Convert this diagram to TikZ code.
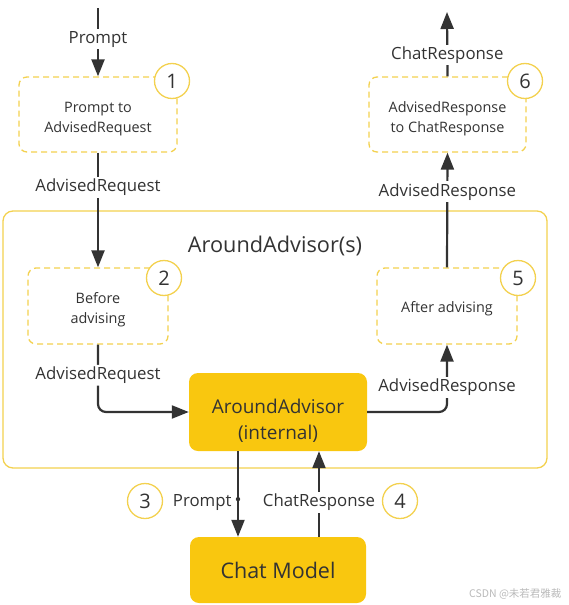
\documentclass[tikz,border=0pt]{standalone}
\usepackage{fontspec}
\setmainfont{Open Sans}
\newfontfamily\cjk{Noto Sans CJK SC}
\usetikzlibrary{arrows.meta, positioning, calc}
\definecolor{advyellow}{HTML}{F9C70F}
\definecolor{advline}{HTML}{F3D14F}
\definecolor{advtext}{HTML}{333333}

\begin{document}
\begin{tikzpicture}[x=1pt, y=-1pt,
  stage/.style={draw=advline, dash pattern=on 6pt off 4pt, line width=1.3pt, rounded corners=8pt,
                minimum height=75pt, align=center, text=advtext, fill=white,
                text height=38pt, text depth=3pt, font=\fontsize{14.4}{20}\selectfont},
  core/.style={fill=advyellow, rounded corners=9pt, align=center, text=advtext},
  badge/.style={circle, draw=advline, line width=1.3pt, fill=white, minimum size=35pt,
                inner sep=0pt, text=advtext, font=\fontsize{20}{20}\selectfont},
  lbl/.style={fill=white, inner sep=2pt, yshift=-2.5pt, text=advtext, font=\fontsize{16.8}{16.8}\selectfont},
  arr/.style={-{Triangle[length=17pt, width=13pt]}, line width=2.2pt, advtext}
]
  \useasboundingbox (0,0) rectangle (568,605);

  % container of the around advisors
  \node[draw=advline, line width=1.3pt, rounded corners=10pt, minimum width=544pt,
        minimum height=257pt] (advisors) at (275,339.5) {};
  \node[text=advtext, font=\fontsize{21.7}{21.7}\selectfont] (title) at (275,246) {AroundAdvisor(s)};

  \node[stage, minimum width=158pt] (toreq) at (98,114.5) {Prompt to\\AdvisedRequest};
  \node[stage, minimum width=140pt, minimum height=76pt, text height=37pt] (before) at (98,306) {Before\\advising};
  \node[stage, minimum width=140pt, minimum height=76pt, text height=15pt, text depth=3pt]
        (after) at (447,306) {After advising};
  \node[stage, minimum width=157pt] (toresp) at (447.5,114.5) {AdvisedResponse\\to ChatResponse};

  \node[core, minimum width=178pt, minimum height=78pt, text height=59pt, text depth=4pt,
        font=\fontsize{19}{26}\selectfont] (internal) at (278,412) {AroundAdvisor\\(internal)};
  \node[core, minimum width=176pt, minimum height=66pt, font=\fontsize{21.5}{21.5}\selectfont]
        (chat) at (278,570) {Chat Model};

  \coordinate (src) at (98,8);
  \coordinate (dst) at (447,12);

  \draw[arr] (src) -- node[lbl, pos=0.42] {Prompt} (toreq.north);
  \draw[arr] (toreq.south) -- node[lbl, pos=0.28] {AdvisedRequest} (before.north);
  \draw[arr, rounded corners=8pt] (before.south) |- node[lbl, pos=0.22, yshift=1.5pt] {AdvisedRequest} (internal.west);
  \draw[arr, rounded corners=8pt] (internal.east) -| node[lbl, pos=0.69, yshift=1.5pt] {AdvisedResponse} (after.south);
  \draw[arr] (after.north) -- node[lbl, pos=0.68] {AdvisedResponse} (toresp.south);
  \draw[arr] (toresp.north) -- node[lbl, pos=0.37] {ChatResponse} (dst);

  \draw[arr] ([xshift=-40pt]internal.south) -- node[pos=0.57, left, xshift=-2pt, yshift=-3pt, text=advtext,
        font=\fontsize{16.8}{16.8}\selectfont] (ask) {Prompt} ([xshift=-40pt]chat.north);
  \fill[advtext] ($([xshift=-40pt]internal.south)!0.56!([xshift=-40pt]chat.north)$) circle (2.2pt);
  \draw[arr] ([xshift=41pt]chat.north) -- node[lbl, pos=0.43] {ChatResponse} ([xshift=41pt]internal.south);

  % step numbers
  \node[badge] (n1) at (172,81) {1};
  \node[badge] (n2) at (164,278) {2};
  \node[badge] (n3) at (145,501) {3};
  \node[badge] (n4) at (400,501) {4};
  \node[badge] (n5) at (518,278) {5};
  \node[badge] (n6) at (525,81) {6};

  \node[anchor=east, text=gray!55, font=\cjk\fontsize{10.5}{10.5}\selectfont] (mark) at (565,594) {CSDN @未若君雅裁};
\end{tikzpicture}
\end{document}
